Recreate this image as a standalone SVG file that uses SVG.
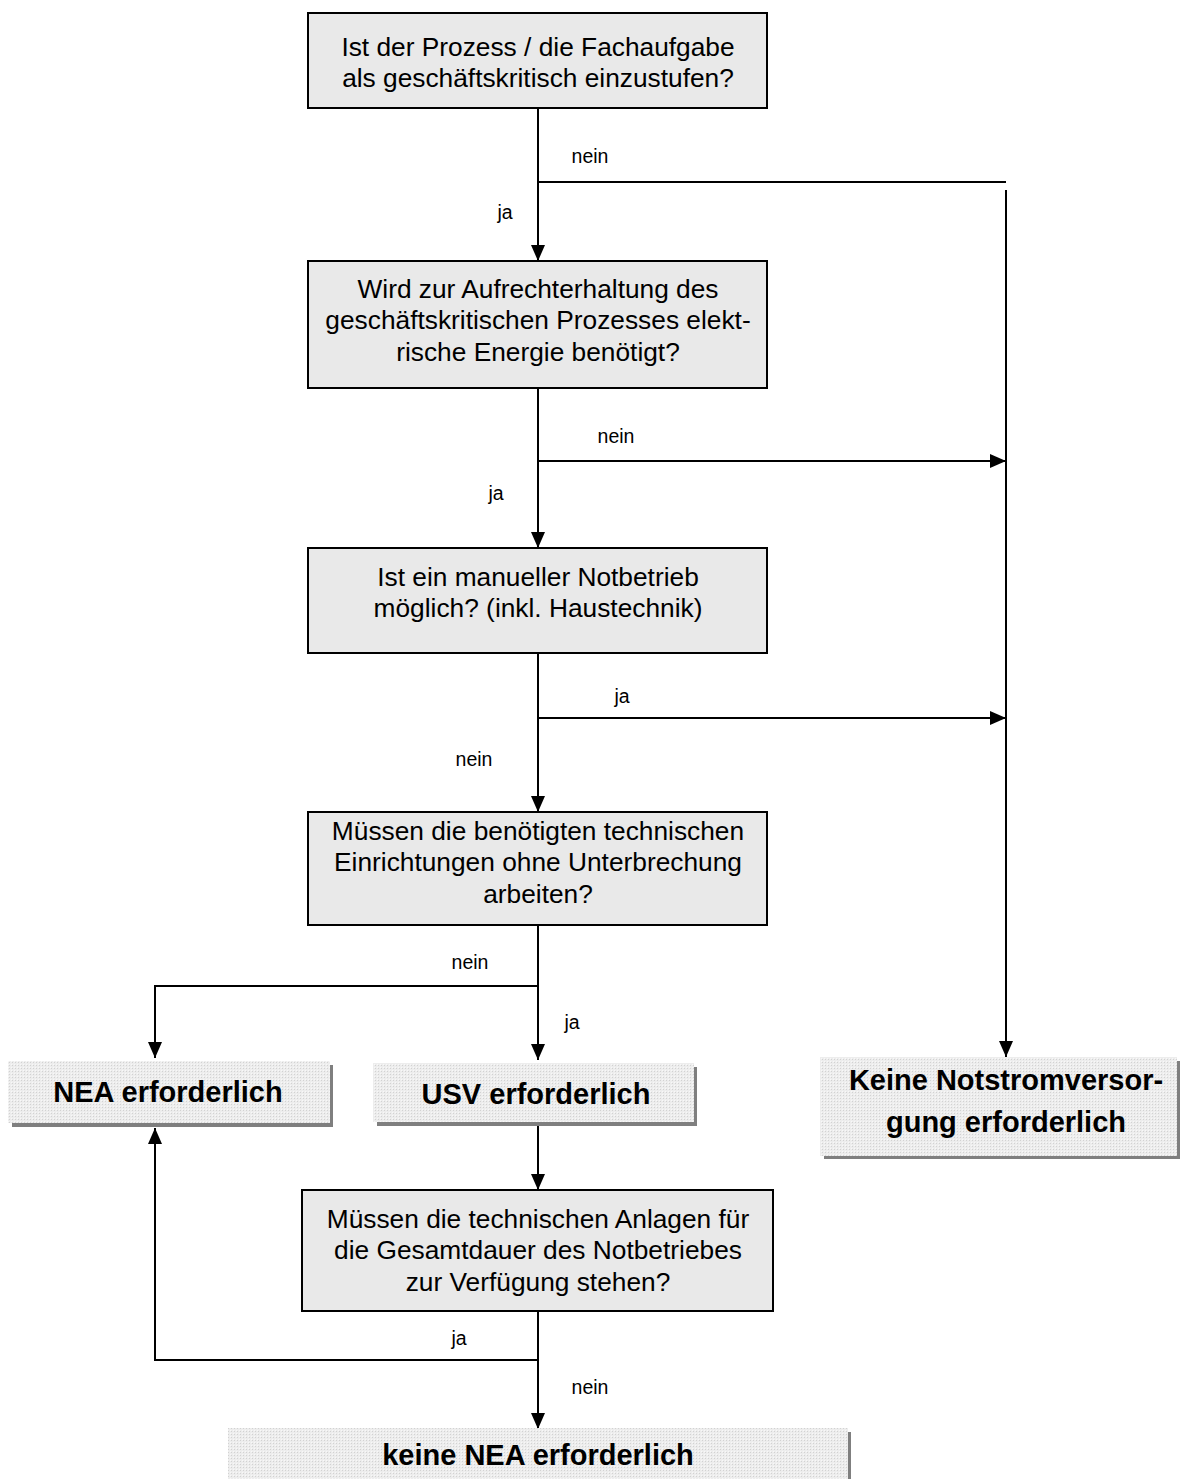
<svg xmlns="http://www.w3.org/2000/svg" width="1180" height="1479" viewBox="0 0 1180 1479">
<style>
.q{fill:#e9e9e9;stroke:#000;stroke-width:2}
.qt{font-family:"Liberation Sans",Arial,sans-serif;font-size:26.3px;fill:#000;text-anchor:middle}
.rt{font-family:"Liberation Sans",Arial,sans-serif;font-size:29px;font-weight:bold;fill:#000;text-anchor:middle}
.lb{font-family:"Liberation Sans",Arial,sans-serif;font-size:19.5px;fill:#000;text-anchor:middle}
.sh{fill:#7f7f7f}
.rb{fill:url(#dots)}
.c{fill:none;stroke:#000;stroke-width:2}
</style>
<defs>
<pattern id="dots" width="3" height="3" patternUnits="userSpaceOnUse">
<rect width="3" height="3" fill="#ededed"/>
<rect width="1" height="1" fill="#d2d2d2"/>
<rect x="2" y="2" width="1" height="1" fill="#f8f8f8"/>
</pattern>
<marker id="arr" markerUnits="userSpaceOnUse" markerWidth="16" markerHeight="14" refX="16" refY="7" orient="auto">
<path d="M0,0 L16,7 L0,14 z" fill="#000"/>
</marker>
</defs>
<rect width="1180" height="1479" fill="#fff"/>

<g id="connectors">
<line class="c" x1="538" y1="108" x2="538" y2="261" marker-end="url(#arr)"/>
<line class="c" x1="538" y1="182" x2="1006" y2="182"/>
<line class="c" x1="1006" y1="190" x2="1006" y2="1057" marker-end="url(#arr)"/>
<line class="c" x1="538" y1="388" x2="538" y2="548" marker-end="url(#arr)"/>
<line class="c" x1="538" y1="461" x2="1006" y2="461" marker-end="url(#arr)"/>
<line class="c" x1="538" y1="653" x2="538" y2="812" marker-end="url(#arr)"/>
<line class="c" x1="538" y1="718" x2="1006" y2="718" marker-end="url(#arr)"/>
<line class="c" x1="538" y1="925" x2="538" y2="1060" marker-end="url(#arr)"/>
<polyline class="c" points="538,986 155,986 155,1058" marker-end="url(#arr)"/>
<line class="c" x1="538" y1="1126" x2="538" y2="1190" marker-end="url(#arr)"/>
<line class="c" x1="538" y1="1311" x2="538" y2="1429" marker-end="url(#arr)"/>
<polyline class="c" points="538,1360 155,1360 155,1128" marker-end="url(#arr)"/>
<text class="lb" x="590" y="163">nein</text>
<text class="lb" x="505" y="219">ja</text>
<text class="lb" x="616" y="443">nein</text>
<text class="lb" x="496" y="500">ja</text>
<text class="lb" x="622" y="703">ja</text>
<text class="lb" x="474" y="766">nein</text>
<text class="lb" x="470" y="969">nein</text>
<text class="lb" x="572" y="1029">ja</text>
<text class="lb" x="459" y="1345">ja</text>
<text class="lb" x="590" y="1394">nein</text>
</g>

<g id="q1">
<rect class="q" x="308" y="13" width="459" height="95"/>
<text class="qt" x="538" y="56">Ist der Prozess / die Fachaufgabe</text>
<text class="qt" x="538" y="87">als geschäftskritisch einzustufen?</text>
</g>

<g id="q2">
<rect class="q" x="308" y="261" width="459" height="127"/>
<text class="qt" x="538" y="298">Wird zur Aufrechterhaltung des</text>
<text class="qt" x="538" y="329">geschäftskritischen Prozesses elekt-</text>
<text class="qt" x="538" y="361">rische Energie benötigt?</text>
</g>

<g id="q3">
<rect class="q" x="308" y="548" width="459" height="105"/>
<text class="qt" x="538" y="586">Ist ein manueller Notbetrieb</text>
<text class="qt" x="538" y="617">möglich? (inkl. Haustechnik)</text>
</g>

<g id="q4">
<rect class="q" x="308" y="812" width="459" height="113"/>
<text class="qt" x="538" y="840">Müssen die benötigten technischen</text>
<text class="qt" x="538" y="871">Einrichtungen ohne Unterbrechung</text>
<text class="qt" x="538" y="903">arbeiten?</text>
</g>

<g id="q5">
<rect class="q" x="302" y="1190" width="471" height="121"/>
<text class="qt" x="538" y="1228">Müssen die technischen Anlagen für</text>
<text class="qt" x="538" y="1259">die Gesamtdauer des Notbetriebes</text>
<text class="qt" x="538" y="1291">zur Verfügung stehen?</text>
</g>

<g id="nea">
<rect class="sh" x="12" y="1065" width="321" height="62"/>
<rect class="rb" x="8" y="1061" width="322" height="62"/>
<text class="rt" x="168" y="1102">NEA erforderlich</text>
</g>

<g id="usv">
<rect class="sh" x="377" y="1067" width="320" height="59"/>
<rect class="rb" x="373" y="1063" width="321" height="59"/>
<text class="rt" x="536" y="1104">USV erforderlich</text>
</g>

<g id="keine-notstrom">
<rect class="sh" x="824" y="1061" width="356" height="98"/>
<rect class="rb" x="820" y="1057" width="357" height="99"/>
<text class="rt" x="1006" y="1090">Keine Notstromversor-</text>
<text class="rt" x="1006" y="1132">gung erforderlich</text>
</g>

<g id="keine-nea">
<rect class="sh" x="232" y="1432" width="619" height="60"/>
<rect class="rb" x="228" y="1428" width="620" height="60"/>
<text class="rt" x="538" y="1465">keine NEA erforderlich</text>
</g>
</svg>
